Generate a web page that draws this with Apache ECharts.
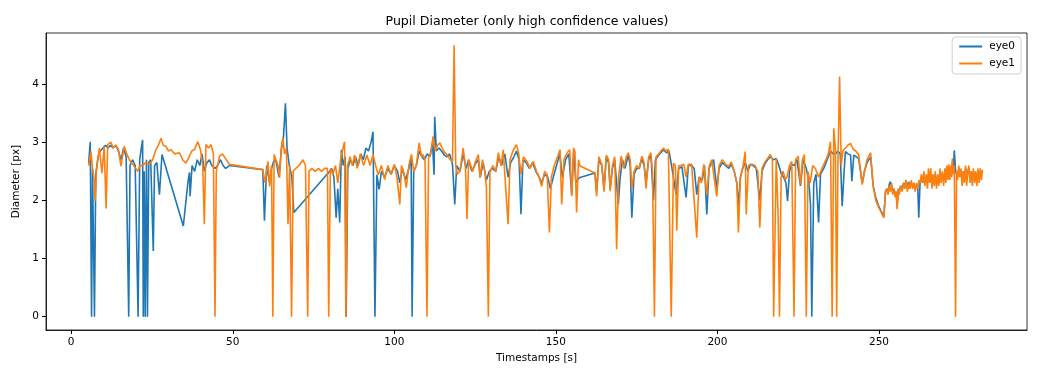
<!DOCTYPE html>
<html>
<head>
<meta charset="utf-8">
<script src="https://cdn.jsdelivr.net/npm/echarts@6/dist/echarts.min.js"></script>
<style>
html,body{margin:0;padding:0;background:#fff;}
#chart{width:1054px;height:381px;}
</style>
</head>
<body>
<div id="chart"></div>
<script>
// Tick labels
const xTicks = [0, 50, 100, 150, 200, 250];
const yTicks = [0, 1, 2, 3, 4];
const seriesNames = ['eye0', 'eye1'];

// eye0: [timestamp s, diameter px]
const eye0 = [
[5.4,2.64],[5.9,3.01],[6.3,0],[6.6,2.55],[6.8,2.53],[7.2,0],[7.6,2.45],[8.3,2.75],[9.0,2.85],[9.8,2.9],
[10.6,2.95],[11.4,2.9],[12.2,2.95],[13.0,2.9],[13.8,2.95],[14.6,2.85],[15.4,2.7],[16.2,2.9],[17.0,2.75],[17.8,0],
[18.2,2.6],[19.0,2.7],[19.8,2.6],[20.7,0],[21.2,2.7],[21.7,2.9],[22.1,3.04],[22.3,0],[22.6,2.5],[22.9,0],
[23.3,2.7],[23.6,0],[24.0,2.65],[24.6,2.7],[25.4,1.13],[25.8,2.6],[26.5,2.65],[27.3,2.1],[28.1,2.79],[34.7,1.56],
[36.1,2.3],[36.6,2.48],[36.8,2.07],[37.4,2.6],[38.2,2.5],[39.0,2.7],[39.8,2.6],[40.5,2.8],[41.2,2.5],[42.0,2.65],
[42.8,2.7],[43.5,2.6],[44.5,2.55],[45.3,2.6],[46.2,2.7],[47.0,2.6],[47.8,2.55],[49.0,2.6],[59.3,2.53],[59.8,1.65],
[60.5,2.6],[61.4,2.3],[62.0,2.55],[62.8,2.7],[63.5,2.65],[64.3,2.4],[65.0,2.85],[65.7,3.1],[66.3,3.67],[66.8,2.9],
[67.5,2.6],[68.3,2.4],[68.9,1.79],[80.0,2.5],[80.6,2.55],[81.3,2.4],[82.0,1.7],[82.5,2.2],[83.1,1.62],[83.6,2.87],
[84.2,2.6],[84.8,2.75],[85.1,0],[85.6,2.55],[86.4,2.7],[87.2,2.6],[88.0,2.75],[88.8,2.6],[89.6,2.8],[90.4,2.7],
[91.2,2.9],[92.0,2.85],[92.8,3.0],[93.4,3.18],[94.0,0],[94.6,2.44],[95.3,2.19],[96.0,2.5],[97.0,2.4],[98.0,2.55],
[99.0,2.45],[100.0,2.6],[101.0,2.5],[101.7,2.3],[102.5,2.55],[103.5,2.35],[104.5,2.55],[105.2,2.75],[105.5,0],[106.0,2.5],
[106.8,2.6],[107.7,2.85],[108.5,2.75],[109.3,2.7],[110.2,2.8],[111.0,2.75],[111.8,3.0],[112.3,2.44],[112.5,3.44],[113.0,2.85],
[113.8,2.9],[114.6,2.85],[115.5,2.78],[116.3,2.75],[117.1,2.8],[118.0,2.62],[118.7,1.93],[119.3,2.6],[120.3,2.5],[121.3,2.8],
[122.2,2.55],[123.0,2.7],[124.0,2.5],[125.0,2.62],[126.0,2.7],[126.6,2.4],[127.5,2.65],[128.5,2.35],[129.4,2.5],[130.4,2.55],
[131.4,2.5],[132.3,2.75],[133.2,2.6],[134.2,2.8],[135.2,2.4],[136.0,2.65],[137.0,2.75],[137.8,2.85],[138.6,2.7],[139.2,1.76],
[139.8,2.7],[140.8,2.65],[141.8,2.55],[142.8,2.65],[143.8,2.5],[144.8,2.4],[145.6,2.3],[146.5,2.45],[147.5,2.4],[148.3,2.2],
[149.2,2.4],[150.2,2.6],[151.2,2.8],[152.0,2.4],[153.0,2.7],[154.0,2.8],[154.9,2.1],[155.5,2.85],[156.2,2.3],[157.2,2.39],
[162.1,2.47],[162.6,2.15],[163.3,2.7],[164.2,2.6],[164.9,2.2],[165.6,2.75],[166.3,2.65],[166.8,2.2],[167.5,2.55],[168.2,2.7],
[168.8,2.3],[169.3,1.93],[169.9,2.4],[170.6,2.7],[171.4,2.55],[172.4,2.78],[173.0,2.6],[173.5,1.7],[174.2,2.45],[175.0,2.55],
[175.8,2.55],[176.6,2.72],[177.3,2.6],[177.9,2.3],[178.7,2.7],[179.4,2.78],[180.2,2.0],[180.8,2.7],[181.8,2.78],[182.5,2.82],
[183.3,2.87],[184.2,2.82],[185.0,2.85],[185.8,2.6],[186.4,2.6],[187.2,2.1],[188.0,2.55],[189.0,2.58],[190.3,2.05],[191.0,2.6],
[192.0,2.6],[192.8,2.55],[193.6,2.1],[194.3,2.4],[195.3,2.35],[196.0,2.6],[196.7,1.76],[197.4,2.55],[198.2,2.65],[198.8,2.7],
[199.8,2.2],[200.5,2.55],[201.5,2.65],[202.5,2.6],[203.5,2.55],[204.3,2.62],[205.2,2.5],[206.0,2.3],[206.5,1.9],[207.1,2.4],
[207.8,2.55],[208.6,2.65],[209.4,2.5],[210.2,2.62],[211.0,2.6],[212.0,2.55],[213.1,2.0],[213.8,2.5],[214.6,2.62],[215.5,2.7],
[216.4,2.75],[217.3,2.7],[218.2,2.72],[219.0,2.6],[219.8,2.45],[220.5,2.4],[221.2,2.3],[221.7,1.99],[222.3,2.5],[223.0,2.62],
[223.8,2.6],[224.6,2.7],[225.7,2.25],[226.5,2.7],[227.5,2.55],[228.3,2.3],[228.8,1.93],[229.2,0],[229.8,2.3],[230.5,2.45],
[231.3,1.62],[231.9,2.45],[232.9,2.55],[233.6,2.65],[234.3,2.75],[235.0,2.85],[235.8,2.8],[236.5,2.8],[237.3,2.85],[238.0,2.8],
[238.6,1.9],[239.2,2.5],[239.6,2.84],[240.4,2.8],[241.2,2.78],[241.6,2.33],[242.2,2.78],[243.0,2.75],[243.7,2.72],[244.3,2.75],
[244.8,2.3],[245.5,2.5],[246.3,2.65],[247.4,2.75],[248.2,2.25],[249.0,2.05],[249.9,1.9],[250.6,1.82],[251.5,1.72],
[252.0,2.15],[252.4,2.2],[252.8,2.15],[253.2,2.28],[253.5,2.32],[253.9,2.25],[254.2,2.15],[254.6,2.2],[255.0,2.1],[255.3,2.15],
[255.6,1.9],[256.0,2.2],[256.3,2.15],[256.7,2.25],[257.2,2.2],[257.6,2.3],[258.0,2.25],[258.4,2.35],[258.8,2.2],[259.2,2.32],
[259.6,2.25],[260.0,2.3],[260.4,2.25],[260.8,2.3],[261.2,2.2],[261.6,2.25],[262.0,2.2],[262.3,1.7],[262.7,2.3],[263.1,2.4],
[263.5,2.3],[263.9,2.45],[264.2,2.3],[264.6,2.4],[265.0,2.3],[265.3,2.45],[265.7,2.35],[266.0,2.45],[266.4,2.3],[266.7,2.4],
[267.1,2.3],[267.4,2.45],[267.8,2.3],[268.2,2.4],[268.5,2.3],[268.9,2.45],[269.2,2.35],[269.6,2.45],[270.0,2.35],[270.4,2.5],
[270.7,2.4],[271.0,2.5],[271.3,2.4],[271.6,2.55],[271.9,2.45],[272.2,2.55],[272.5,2.5],[272.7,2.65],[273.0,2.55],[273.3,2.86],
[273.7,2.5],[274.0,2.45],[274.3,2.4],[274.7,2.55],[275.0,2.45],[275.4,2.5],[275.7,2.35],[276.1,2.5],[276.4,2.4],[276.8,2.55],
[277.1,2.35],[277.5,2.5],[277.8,2.55],[278.2,2.4],[278.5,2.5],[278.9,2.35],[279.2,2.5],[279.6,2.4],[279.9,2.45],[280.3,2.35],
[280.6,2.5],[281.0,2.4],[281.3,2.5],[281.7,2.45],[282.0,2.5]
];

// eye1: [timestamp s, diameter px]
const eye1 = [
[5.4,2.6],[6.1,2.84],[6.6,2.55],[7.1,2.36],[7.4,1.99],[7.8,2.5],[8.7,2.9],[9.5,2.47],[10.2,2.93],[10.8,1.86],
[11.3,2.96],[12.3,3.0],[13.0,2.9],[13.8,2.95],[14.6,2.88],[15.4,2.59],[16.4,2.93],[17.2,2.8],[18.0,2.7],[19.0,2.62],
[20.0,2.55],[20.6,2.5],[21.3,2.6],[22.1,2.59],[23.0,2.65],[24.2,2.62],[25.2,2.7],[26.2,2.87],[27.0,2.95],[27.8,3.07],
[28.5,2.95],[29.3,2.93],[30.1,2.85],[30.9,2.87],[32.0,2.8],[33.5,2.82],[34.5,2.7],[35.5,2.64],[36.5,2.75],[37.3,2.85],
[38.1,2.87],[39.2,3.01],[40.0,2.87],[40.7,2.6],[41.2,1.59],[41.7,2.96],[42.5,2.9],[43.3,2.96],[44.0,2.8],[44.5,0],
[44.9,2.5],[45.9,2.76],[46.8,2.8],[48.0,2.7],[49.0,2.62],[59.3,2.53],[60.0,2.3],[60.9,2.67],[61.4,2.24],[62.0,2.6],
[62.4,0],[62.8,2.79],[63.4,2.81],[64.0,2.6],[64.5,2.39],[65.0,2.9],[65.5,3.07],[66.0,2.8],[66.6,2.9],[67.1,1.59],
[67.6,2.6],[68.2,0],[68.7,2.5],[69.5,2.55],[70.5,2.6],[71.7,2.7],[72.5,2.6],[73.2,0],[73.6,2.5],[74.5,2.55],
[75.5,2.5],[76.5,2.55],[77.5,2.5],[78.5,2.55],[79.3,2.55],[79.7,0],[80.2,2.55],[81.0,2.45],[81.8,2.6],[82.5,2.3],
[83.5,2.75],[84.6,3.01],[85.0,0],[85.5,2.6],[86.3,2.75],[87.0,2.6],[87.7,2.78],[88.5,2.55],[89.5,2.8],[90.5,2.6],
[91.5,2.78],[92.5,2.6],[93.4,2.79],[94.2,2.6],[95.0,2.44],[96.0,2.6],[97.0,2.36],[98.0,2.6],[99.0,2.45],[100.0,2.62],
[100.8,2.4],[101.7,1.93],[102.2,2.6],[103.0,2.45],[103.7,2.22],[104.5,2.6],[105.3,2.79],[106.0,2.5],[106.8,2.6],[107.7,2.99],
[108.4,2.75],[108.9,2.79],[109.5,2.7],[110.1,0],[110.6,2.75],[111.3,2.8],[112.0,3.1],[112.7,2.85],[113.4,2.95],[114.1,2.99],
[114.8,2.9],[115.6,2.82],[116.5,2.78],[117.3,2.7],[118.0,2.67],[118.5,4.67],[119.0,2.6],[119.5,2.45],[120.3,2.5],[121.3,2.9],
[122.0,2.6],[122.5,1.68],[123.0,2.7],[123.4,2.73],[124.3,2.5],[125.0,2.65],[126.0,2.79],[126.5,2.39],[127.3,2.7],[128.0,2.5],
[128.5,2.22],[129.1,0],[129.6,2.5],[130.5,2.6],[131.4,2.5],[132.2,2.82],[133.0,2.6],[133.7,2.87],[134.2,2.87],[135.2,1.59],
[135.8,2.7],[136.7,2.85],[137.8,2.96],[138.5,2.8],[139.2,2.45],[140.0,2.75],[141.0,2.67],[142.0,2.55],[143.0,2.67],[144.0,2.5],
[144.8,2.4],[145.6,2.24],[146.5,2.5],[147.3,2.45],[148.0,1.45],[148.6,2.4],[149.5,2.6],[150.5,2.75],[151.3,2.87],[151.8,1.93],
[152.5,2.7],[153.5,2.82],[154.3,2.87],[154.9,2.07],[155.5,2.9],[155.9,2.84],[156.4,1.79],[157.0,2.7],[157.5,2.59],[162.1,2.47],
[162.6,2.07],[163.3,2.75],[164.2,2.62],[164.9,2.15],[165.6,2.78],[166.3,2.7],[166.8,2.16],[167.5,2.6],[168.2,2.75],[168.8,1.16],
[169.4,2.4],[170.2,2.76],[171.0,2.55],[171.8,2.75],[172.4,2.82],[173.0,2.7],[173.5,2.2],[174.2,2.5],[175.0,2.6],[175.8,2.55],
[176.6,2.76],[177.3,2.65],[177.9,2.2],[178.7,2.75],[179.4,2.82],[179.9,2.5],[180.5,0],[181.0,2.75],[181.8,2.8],[182.5,2.85],
[183.3,2.9],[184.0,2.85],[184.8,2.88],[185.7,0],[186.4,2.64],[187.0,2.6],[187.4,1.48],[188.0,2.6],[188.8,2.6],[189.6,2.62],
[190.3,2.4],[191.0,2.62],[192.0,2.62],[192.6,2.59],[193.6,1.36],[194.3,2.4],[195.0,2.3],[195.8,2.62],[196.7,2.1],[197.5,2.6],
[198.2,2.7],[198.8,2.73],[199.8,2.07],[200.5,2.6],[201.5,2.7],[202.5,2.62],[203.5,2.59],[204.3,2.66],[205.2,2.5],[206.0,2.3],
[206.5,1.45],[207.1,2.39],[207.8,2.55],[208.6,2.84],[208.9,1.76],[209.6,2.6],[210.7,2.62],[211.6,2.6],[212.5,2.5],[213.1,1.53],
[213.8,2.55],[214.6,2.65],[215.5,2.72],[216.4,2.79],[217.0,2.7],[217.4,0],[218.2,2.72],[218.8,1.7],[219.2,0],[219.7,2.4],
[220.3,2.5],[221.0,2.36],[221.5,2.4],[222.3,2.6],[223.0,2.67],[223.7,0],[224.2,2.7],[225.0,2.76],[225.7,2.27],[226.3,2.7],
[226.9,2.79],[227.5,0],[228.0,2.5],[228.7,2.3],[229.5,2.6],[230.3,2.55],[231.3,2.4],[232.0,2.5],[232.9,2.62],[233.6,2.7],
[234.3,2.8],[235.0,3.01],[235.5,0],[236.0,3.24],[236.5,2.9],[236.9,0],[237.3,2.7],[237.8,4.13],[238.3,2.6],[238.8,2.85],
[239.6,2.9],[240.4,2.95],[241.2,2.98],[242.0,2.88],[242.8,2.85],[243.7,2.79],[244.3,2.82],[244.8,2.27],[245.5,2.5],[246.3,2.7],
[247.4,2.82],[248.2,2.24],[249.0,2.0],[249.9,1.88],[250.6,1.8],[251.5,1.7],
[252.0,2.13],[252.4,2.2],[252.8,2.1],[253.2,2.25],[253.5,2.15],[253.9,2.3],[254.2,2.1],[254.6,2.2],[255.0,2.05],[255.3,2.15],
[255.6,1.85],[256.0,2.2],[256.3,2.1],[256.7,2.25],[257.2,2.15],[257.6,2.3],[258.0,2.2],[258.4,2.35],[258.8,2.15],[259.2,2.3],
[259.6,2.2],[260.0,2.35],[260.4,2.2],[260.8,2.3],[261.2,2.15],[261.6,2.3],[262.0,2.2],[262.4,2.35],[262.8,2.3],[263.1,2.45],
[263.5,2.3],[263.9,2.5],[264.2,2.25],[264.6,2.45],[265.0,2.2],[265.3,2.55],[265.7,2.3],[266.0,2.55],[266.4,2.2],[266.7,2.45],
[267.1,2.25],[267.4,2.5],[267.8,2.2],[268.2,2.45],[268.5,2.25],[268.9,2.55],[269.2,2.3],[269.6,2.5],[270.0,2.25],[270.4,2.55],
[270.7,2.3],[271.0,2.6],[271.3,2.35],[271.6,2.62],[271.9,2.35],[272.2,2.6],[272.5,2.4],[272.7,2.72],[273.0,2.45],[273.3,2.6],
[273.7,0],[274.0,2.5],[274.3,2.35],[274.7,2.6],[275.0,2.4],[275.4,2.55],[275.7,2.25],[276.1,2.5],[276.4,2.3],[276.8,2.6],
[277.1,2.25],[277.5,2.5],[277.8,2.6],[278.2,2.3],[278.5,2.5],[278.9,2.25],[279.2,2.55],[279.6,2.3],[279.9,2.5],[280.3,2.25],
[280.6,2.55],[281.0,2.3],[281.3,2.55],[281.7,2.35],[282.0,2.53]
];

const chart = echarts.init(document.getElementById('chart'), null, {renderer: 'canvas'});
const font = 'DejaVu Sans';
chart.setOption({
  animation: false,
  backgroundColor: '#ffffff',
  textStyle: {fontFamily: font},
  title: {
    text: 'Pupil Diameter (only high confidence values)',
    left: 'center', top: 10,
    textStyle: {fontFamily: font, fontSize: 12.6, fontWeight: 'normal', color: '#000'}
  },
  legend: {
    data: seriesNames,
    orient: 'vertical',
    right: 33, top: 37,
    icon: 'rect',
    itemWidth: 23, itemHeight: 2, itemGap: 6,
    padding: [4, 6, 5, 7],
    backgroundColor: '#fff',
    borderColor: '#d0d0d0', borderWidth: 1, borderRadius: 3,
    textStyle: {fontFamily: font, fontSize: 10.5, color: '#000', padding: [0, 0, 0, 2]}
  },
  grid: {
    left: 46, right: 27, top: 33, bottom: 51,
    show: true, borderColor: '#000', borderWidth: 0.8, backgroundColor: 'transparent'
  },
  xAxis: {
    type: 'value', min: -7.8, max: 295.8,
    name: 'Timestamps [s]', nameLocation: 'middle', nameGap: 23,
    nameTextStyle: {fontFamily: font, fontSize: 10.5, color: '#000'},
    axisLine: {show: true, onZero: false, lineStyle: {color: '#000', width: 0.8}},
    axisTick: {show: true, length: 4, lineStyle: {color: '#000'}, customValues: xTicks},
    axisLabel: {fontFamily: font, fontSize: 10.5, color: '#000', margin: 7, customValues: xTicks},
    splitLine: {show: false}
  },
  yAxis: {
    type: 'value', min: -0.23, max: 4.88,
    name: 'Diameter [px]', nameLocation: 'middle', nameGap: 24,
    nameTextStyle: {fontFamily: font, fontSize: 10.5, color: '#000'},
    axisLine: {show: true, onZero: false, lineStyle: {color: '#000', width: 0.8}},
    axisTick: {show: true, length: 4, lineStyle: {color: '#000'}, customValues: yTicks},
    axisLabel: {fontFamily: font, fontSize: 10.5, color: '#000', margin: 7, customValues: yTicks},
    splitLine: {show: false}
  },
  series: [
    {name: seriesNames[0], type: 'line', data: eye0, showSymbol: false, symbol: 'none',
     lineStyle: {color: '#1f77b4', width: 1.6}, itemStyle: {color: '#1f77b4'}, z: 2},
    {name: seriesNames[1], type: 'line', data: eye1, showSymbol: false, symbol: 'none',
     lineStyle: {color: '#ff7f0e', width: 1.6}, itemStyle: {color: '#ff7f0e'}, z: 3}
  ]
});
</script>
</body>
</html>
